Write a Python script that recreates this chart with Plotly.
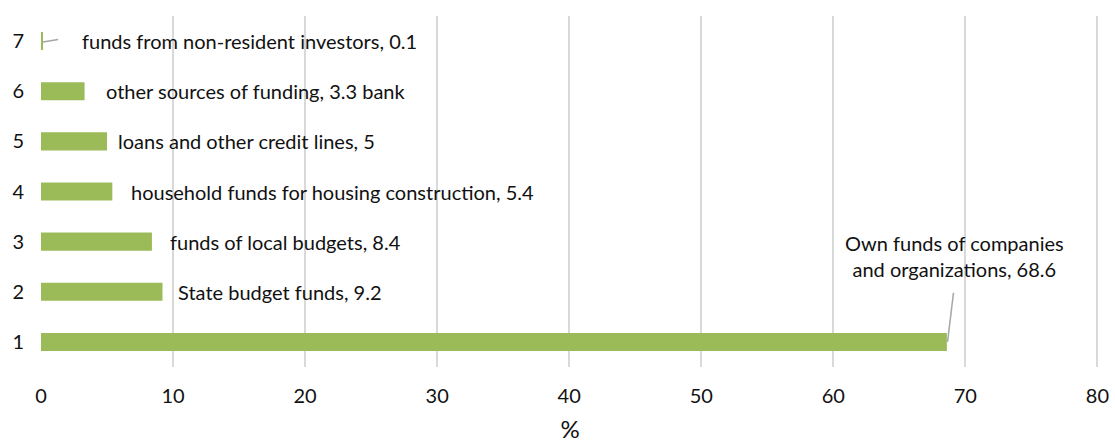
import plotly.graph_objects as go

categories = [1, 2, 3, 4, 5, 6, 7]
values = [68.6, 9.2, 8.4, 5.4, 5, 3.3, 0.1]
labels = [
    "Own funds of companies<br>and organizations, 68.6",
    "State budget funds, 9.2",
    "funds of local budgets, 8.4",
    "household funds for housing construction, 5.4",
    "loans and other credit lines, 5",
    "other sources of funding, 3.3 bank",
    "funds from non-resident investors, 0.1",
]
x_ticks = [0, 10, 20, 30, 40, 50, 60, 70, 80]

# label placement (data coords)
label_x = [69.2, 10.2, 9.6, 6.7, 5.7, 4.8, 2.95]
label_y = [2.72, 2, 3, 4, 5, 6, 7]

FONT = "Lato"
FS = 20
fig = go.Figure()
fig.add_trace(go.Bar(
    x=values, y=categories, orientation="h",
    marker=dict(color="#9BBB59", line=dict(width=0)),
    width=0.36,
))

for i, (lx, ly, t) in enumerate(zip(label_x, label_y, labels)):
    if i == 0:
        fig.add_annotation(x=lx, y=ly, text=t, showarrow=False,
                           xanchor="center", yanchor="middle", align="center",
                           font=dict(size=FS, color="#111"))
    else:
        fig.add_annotation(x=lx, y=ly, text=t, showarrow=False,
                           xanchor="left", yanchor="middle",
                           font=dict(size=FS, color="#111"))

# leader lines
fig.add_shape(type="line", x0=values[0] + 0.05, y0=1, x1=69.1, y1=1.98,
              line=dict(color="#A6A6A6", width=1.5))
fig.add_shape(type="line", x0=values[6] + 0.05, y0=6.98, x1=1.3, y1=7.03,
              line=dict(color="#A6A6A6", width=1.5))

fig.update_layout(
    width=1115, height=443,
    margin=dict(l=41, r=16, t=16, b=76),
    paper_bgcolor="white", plot_bgcolor="white",
    font=dict(family=FONT, size=FS, color="#111"),
    showlegend=False,
    xaxis=dict(range=[0, 80.12], tickvals=x_ticks, showgrid=True,
               gridcolor="#D9D9D9", gridwidth=2, zeroline=False,
               showline=False, ticks="", ticklen=0, automargin=False,
               ticklabeloverflow="allow",
               title=dict(text="%", standoff=28),
               tickfont=dict(size=FS), ticklabelstandoff=15),
    yaxis=dict(range=[0.5, 7.5], tickvals=categories, showgrid=False,
               zeroline=False, showline=False, ticks="", automargin=False,
               tickfont=dict(size=FS), ticklabelstandoff=16),
)
fig.write_html("out.html")
